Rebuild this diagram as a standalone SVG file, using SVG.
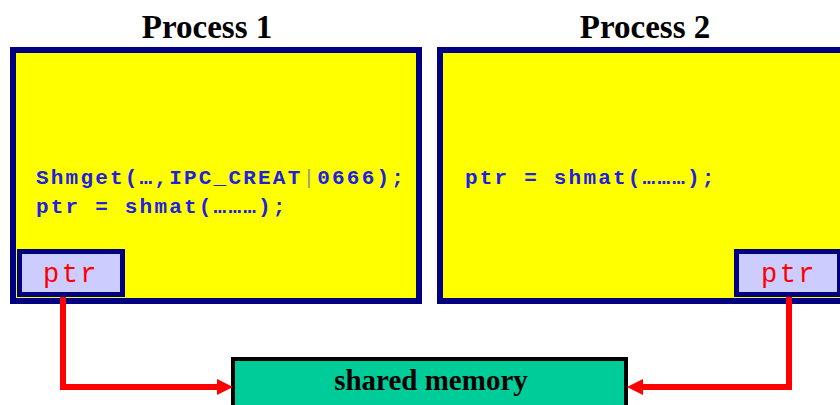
<svg xmlns="http://www.w3.org/2000/svg" width="840" height="405" viewBox="0 0 840 405">
<defs>
<style>
.title{font-family:"Liberation Serif","Times New Roman",serif;font-weight:bold;font-size:33px;fill:#000;text-anchor:middle}
.proc{fill:#FFFF00;stroke:#000080;stroke-width:6}
.code{font-family:"Liberation Mono","Courier New",monospace;font-weight:bold;font-size:21px;letter-spacing:2.2px;fill:#2020E0}
.bar{fill:#999999;font-weight:normal}
.ptrbox{fill:#CCCCFF;stroke:#000080;stroke-width:5}
.ptr{font-family:"Liberation Mono","Courier New",monospace;font-size:27px;letter-spacing:2.5px;fill:#FF0000;text-anchor:middle}
.shared{fill:#00CC99;stroke:#000;stroke-width:4}
.shtext{font-family:"Liberation Serif","Times New Roman",serif;font-weight:bold;font-size:29px;fill:#000;text-anchor:middle}
.conn{fill:none;stroke:#FF0000;stroke-width:6;stroke-linejoin:miter}
</style>
<marker id="arrow" markerUnits="userSpaceOnUse" markerWidth="16" markerHeight="16" refX="0" refY="8" orient="auto">
<path d="M0,0 L16,8 L0,16 Z" fill="#FF0000"/>
</marker>
</defs>
<rect width="840" height="405" fill="#FFFFFF"/>
<g id="process1">
<text class="title" x="207" y="38">Process 1</text>
<rect class="proc" x="13" y="50" width="406" height="251"/>
<text class="code" x="36" y="184">Shmget(…,IPC_CREAT<tspan class="bar">|</tspan>0666);</text>
<text class="code" x="36" y="213">ptr = shmat(………);</text>
</g>
<g id="ptr1">
<rect class="ptrbox" x="19.5" y="251.5" width="103" height="43"/>
<text class="ptr" x="71" y="282">ptr</text>
</g>
<g id="process2">
<text class="title" x="645" y="38">Process 2</text>
<rect class="proc" x="440" y="50" width="410" height="251"/>
<text class="code" x="465" y="184">ptr = shmat(………);</text>
</g>
<g id="ptr2">
<rect class="ptrbox" x="736.5" y="251.5" width="103" height="43"/>
<text class="ptr" x="789" y="282">ptr</text>
</g>
<g id="shared">
<rect class="shared" x="233" y="359" width="393" height="60"/>
<text class="shtext" x="431" y="390">shared memory</text>
</g>
<g id="connectors">
<polyline class="conn" points="63,297 63,387 217,387" marker-end="url(#arrow)"/>
<polyline class="conn" points="789,297 789,387 643,387" marker-end="url(#arrow)"/>
</g>
</svg>
